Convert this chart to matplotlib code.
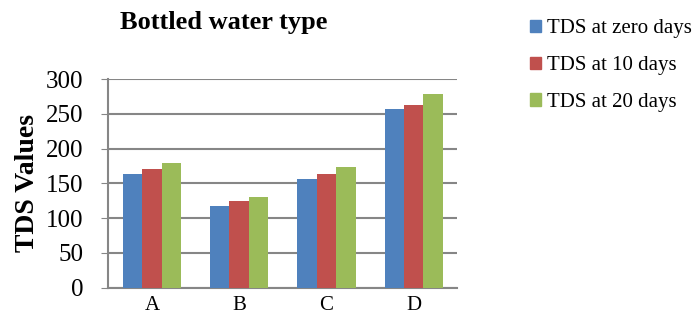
import matplotlib.pyplot as plt
import numpy as np
from matplotlib.patches import Patch

plt.rcParams['font.family'] = ['Liberation Serif', 'DejaVu Serif']

types = ['A', 'B', 'C', 'D']
tds_zero = [164, 118, 156, 257]
tds_10 = [171, 124, 163, 263]
tds_20 = [180, 131, 174, 278]
series_names = ['TDS at zero days', 'TDS at 10 days', 'TDS at 20 days']
colors = ['#4F81BD', '#C0504D', '#9BBB59']

fig = plt.figure(figsize=(6.94, 3.24), dpi=100)
ax = fig.add_axes([0.156, 0.112, 0.503, 0.644])

x = np.arange(len(types))
w = 0.223
for i, (vals, c) in enumerate(zip([tds_zero, tds_10, tds_20], colors)):
    ax.bar(x + (i - 1) * w, vals, w, color=c, zorder=3)

ax.set_xlim(-0.5, 3.5)
ax.set_ylim(0, 300)
ax.set_yticks(range(0, 301, 50))
ax.set_xticks(x)
ax.set_xticklabels(types, fontsize=15)
ax.tick_params(axis='y', labelsize=18, length=5, color='#868686', pad=13)
ax.tick_params(axis='x', length=0, pad=6)
ax.yaxis.grid(True, color='#868686', linewidth=1.5, zorder=0)
for s in ['top', 'right']:
    ax.spines[s].set_visible(False)
for s in ['left', 'bottom']:
    ax.spines[s].set_color('#868686')
    ax.spines[s].set_linewidth(1.5)

ax.set_ylabel('TDS Values', fontsize=20, fontweight='bold', labelpad=4)
fig.text(0.322, 0.93, 'Bottled water type', fontsize=19, fontweight='bold',
         ha='center', va='center')

handles = [Patch(color=c, label=n) for c, n in zip(colors, series_names)]
fig.legend(handles=handles, loc='upper left', bbox_to_anchor=(0.742, 0.985),
           frameon=False, fontsize=15, handlelength=0.55, handleheight=0.55,
           handletextpad=0.3, labelspacing=0.85, borderaxespad=0.3)

fig.savefig('out.png', dpi=100)
